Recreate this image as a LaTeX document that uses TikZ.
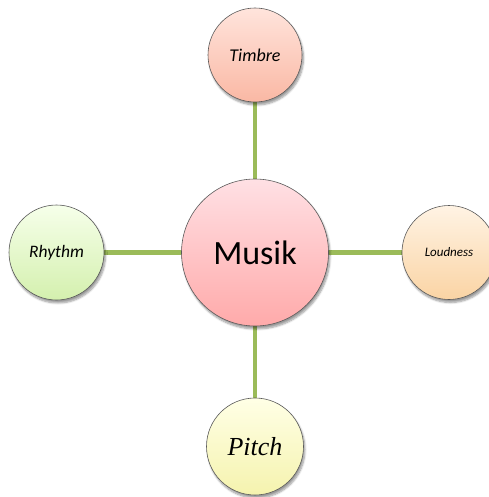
\documentclass[tikz,border=0pt]{standalone}
\usepackage{fontspec}
\setmainfont{Carlito}
\newfontfamily\timesfont{Liberation Serif}
\usetikzlibrary{shadows.blur,backgrounds}
\definecolor{linkgreen}{RGB}{155,187,89}
\definecolor{rimgray}{RGB}{90,90,90}
\tikzset{
  bubble/.style={circle, draw=rimgray, line width=0.6pt, inner sep=0pt,
    blur shadow={shadow xshift=1.5pt, shadow yshift=-3pt, shadow blur steps=6, shadow opacity=40}},
  link/.style={draw=linkgreen, line width=4.5pt}
}
\begin{document}
\begin{tikzpicture}[x=1pt,y=-1pt]
\useasboundingbox (0,0) rectangle (488,497);
\node[bubble, minimum size=147pt, top color={rgb,255:red,255;green,224;blue,228}, bottom color={rgb,255:red,255;green,170;blue,170}] (musik) at (255,252.5) {\fontsize{34}{40}\selectfont Musik};
\node[bubble, minimum size=94pt, top color={rgb,255:red,255;green,228;blue,220}, bottom color={rgb,255:red,250;green,184;blue,164}] (timbre) at (255,55) {\fontsize{18}{22}\selectfont\itshape Timbre};
\node[bubble, minimum size=95pt, top color={rgb,255:red,246;green,255;blue,234}, bottom color={rgb,255:red,212;green,240;blue,174}] (rhythm) at (56.5,252.5) {\fontsize{17.5}{21}\selectfont\itshape Rhythm};
\node[bubble, minimum size=94pt, top color={rgb,255:red,255;green,243;blue,228}, bottom color={rgb,255:red,250;green,212;blue,164}] (loud) at (449,252.5) {\fontsize{13}{16}\selectfont\itshape Loudness};
\node[bubble, minimum size=97pt, top color={rgb,255:red,255;green,255;blue,230}, bottom color={rgb,255:red,245;green,243;blue,174}] (pitch) at (255,446.5) {\fontsize{26}{30}\selectfont\timesfont\itshape Pitch};
\begin{scope}[on background layer]
\draw[link] (timbre.south) -- (musik.north);
\draw[link] (rhythm.east) -- (musik.west);
\draw[link] (musik.east) -- (loud.west);
\draw[link] (musik.south) -- (pitch.north);
\end{scope}
\end{tikzpicture}
\end{document}
